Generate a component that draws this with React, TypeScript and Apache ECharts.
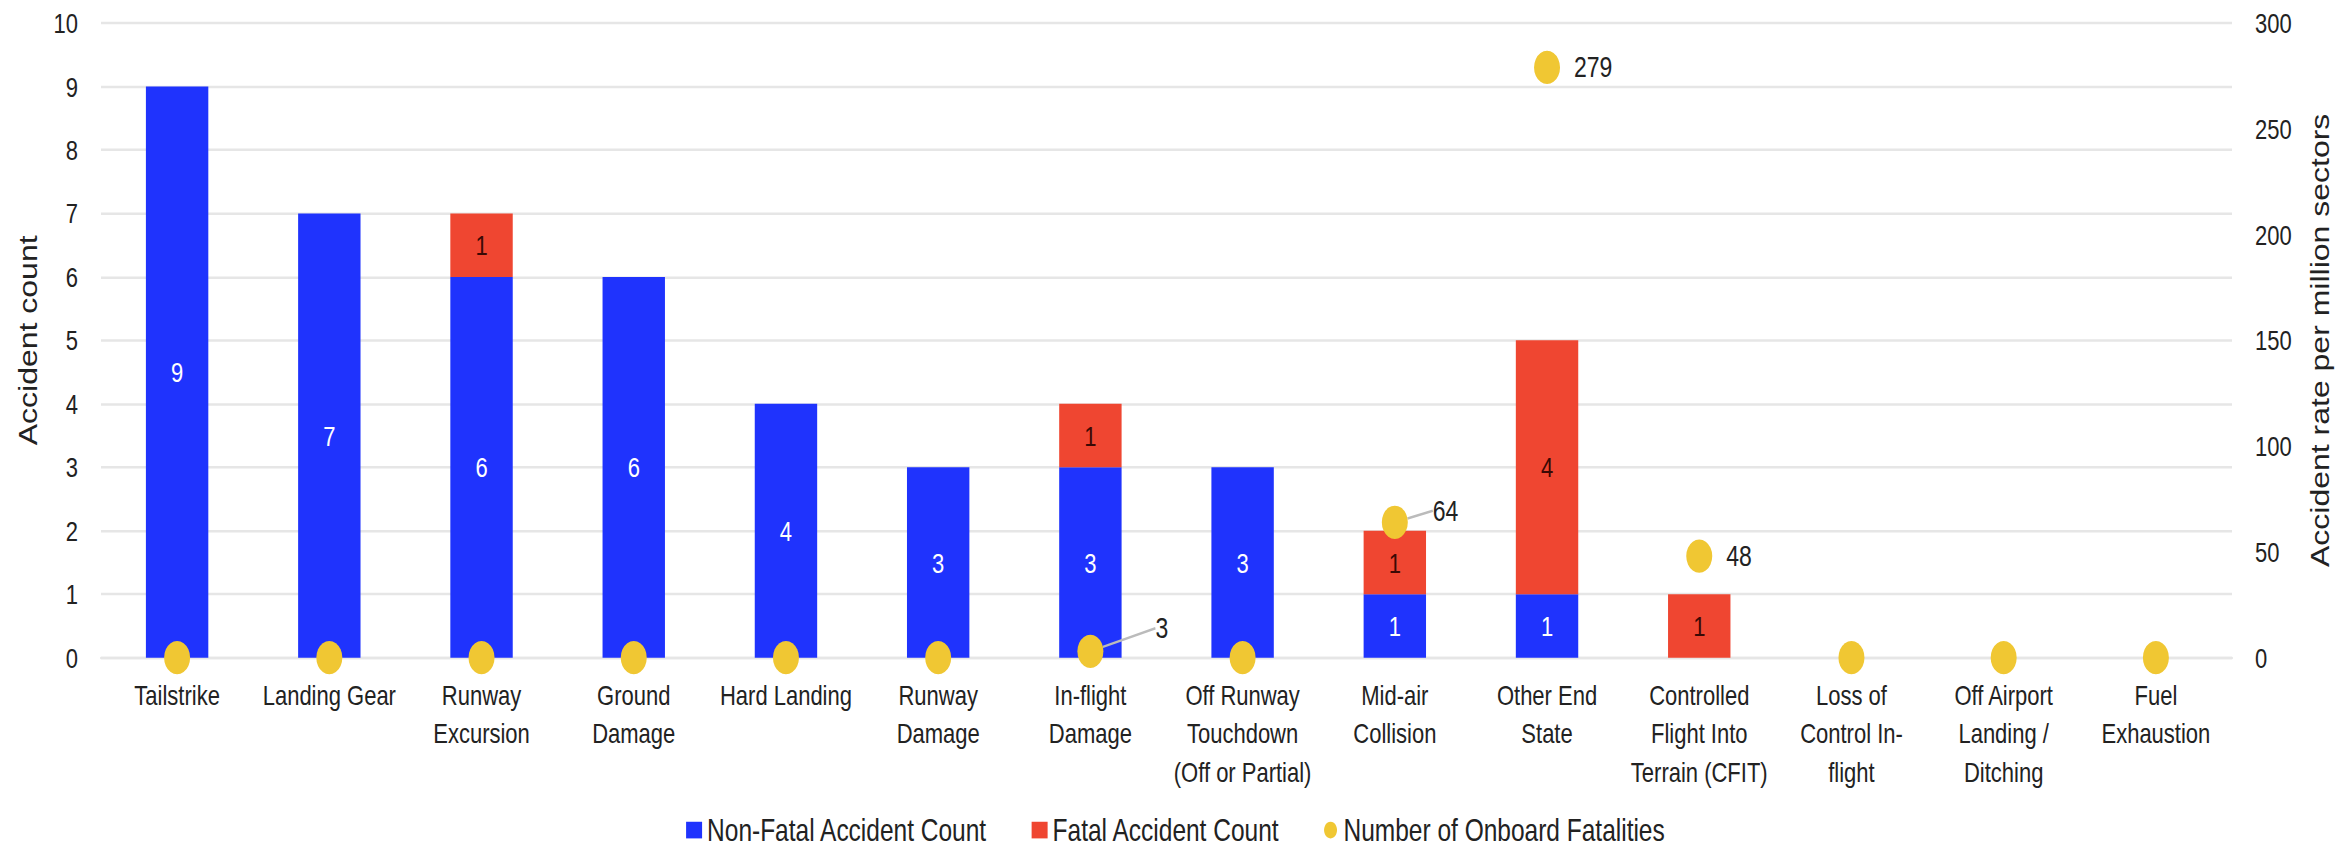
import React, { useEffect, useRef } from "react";
import * as echarts from "echarts";

const categories = [
  "Tailstrike",
  "Landing Gear",
  "Runway\nExcursion",
  "Ground\nDamage",
  "Hard Landing",
  "Runway\nDamage",
  "In-flight\nDamage",
  "Off Runway\nTouchdown\n(Off or Partial)",
  "Mid-air\nCollision",
  "Other End\nState",
  "Controlled\nFlight Into\nTerrain (CFIT)",
  "Loss of\nControl In-\nflight",
  "Off Airport\nLanding /\nDitching",
  "Fuel\nExhaustion",
];
const nonFatalCounts = [9, 7, 6, 6, 4, 3, 3, 3, 1, 1, 0, 0, 0, 0];
const fatalCounts = [0, 0, 1, 0, 0, 0, 1, 0, 1, 4, 1, 0, 0, 0];
const onboardFatalities = [0, 0, 0, 0, 0, 0, 3, 0, 64, 279, 48, 0, 0, 0];

const leftAxis = { min: 0, max: 10, interval: 1 };
const rightAxis = { min: 0, max: 300, interval: 50 };

const W = 2351;
const H = 848;
const S = 1.28;
const IH = H / S;
const FONT = "'Liberation Sans', Arial, sans-serif";

export default function App() {
  const ref = useRef<HTMLDivElement>(null);
  useEffect(() => {
    const chart = echarts.init(ref.current!, null, { renderer: "svg" });
    const nz = (p: any) => (p.value > 0 ? String(p.value) : "");
    chart.setOption({
      animation: false,
      textStyle: { fontFamily: FONT },
      grid: { left: 101, right: 119, top: 18, bottom: IH - 513.3 },
      legend: {
        top: 636,
        left: "center",
        padding: 0,
        itemGap: 44,
        itemWidth: 16,
        itemHeight: 13,
        textStyle: { fontSize: 24.5, color: "#222", fontFamily: FONT, lineHeight: 24 },
        data: [
          { name: "Non-Fatal Accident Count", icon: "rect" },
          { name: "Fatal Accident Count", icon: "rect" },
          { name: "Number of Onboard Fatalities", icon: "circle" },
        ],
      },
      xAxis: {
        type: "category",
        data: categories,
        axisTick: { show: false },
        axisLine: { lineStyle: { color: "#e6e6e6", width: 2 } },
        axisLabel: {
          interval: 0,
          fontSize: 22,
          lineHeight: 30,
          margin: 14,
          color: "#222",
          fontFamily: FONT,
        },
      },
      yAxis: [
        {
          type: "value",
          ...leftAxis,
          name: "Accident count",
          nameLocation: "middle",
          nameGap: 60,
          nameTextStyle: { fontSize: 25, color: "#222", fontFamily: FONT },
          axisLabel: { fontSize: 22, margin: 23, color: "#222", fontFamily: FONT },
          axisLine: { show: false },
          axisTick: { show: false },
          splitLine: { lineStyle: { color: "#e6e6e6", width: 2 } },
        },
        {
          type: "value",
          ...rightAxis,
          position: "right",
          name: "Accident rate per million sectors",
          nameLocation: "middle",
          nameRotate: 90,
          nameGap: 76,
          nameTextStyle: { fontSize: 25, color: "#222", fontFamily: FONT },
          axisLabel: { fontSize: 22, margin: 23, color: "#222", fontFamily: FONT },
          axisLine: { show: false },
          axisTick: { show: false },
          splitLine: { show: false },
        },
      ],
      series: [
        {
          name: "Non-Fatal Accident Count",
          type: "bar",
          stack: "acc",
          barWidth: "41%",
          data: nonFatalCounts,
          itemStyle: { color: "#1f33fd" },
          label: {
            show: true,
            position: "inside",
            fontSize: 22,
            color: "#fff",
            fontFamily: FONT,
            formatter: nz,
          },
        },
        {
          name: "Fatal Accident Count",
          type: "bar",
          stack: "acc",
          barWidth: "41%",
          data: fatalCounts,
          itemStyle: { color: "#ef4631" },
          label: {
            show: true,
            position: "inside",
            fontSize: 22,
            color: "#3a0905",
            fontFamily: FONT,
            formatter: nz,
          },
        },
        {
          name: "Number of Onboard Fatalities",
          type: "scatter",
          yAxisIndex: 1,
          symbol: "circle",
          symbolSize: 26,
          z: 5,
          itemStyle: { color: "#f0c733", opacity: 1 },
          data: onboardFatalities.map((v, i) =>
            i === 6 || i === 8
              ? { value: v, labelLine: { show: true, lineStyle: { color: "#bbbbbb", width: 2 } } }
              : { value: v }
          ),
          label: {
            show: true,
            position: "right",
            distance: 14,
            fontSize: 23,
            color: "#222",
            fontFamily: FONT,
            formatter: nz,
          },
          labelLayout: (p: any) => {
            if (p.dataIndex === 6) return { dx: 38, dy: -18 };
            if (p.dataIndex === 8) return { dx: 11, dy: -9 };
            return {};
          },
        },
      ],
    });
    return () => chart.dispose();
  }, []);
  return (
    <div
      style={{
        position: "absolute",
        left: 0,
        top: 0,
        width: W,
        height: H,
        overflow: "hidden",
        background: "#fff",
      }}
    >
      <div
        ref={ref}
        style={{
          width: W,
          height: IH,
          transform: `scaleY(${S})`,
          transformOrigin: "0 0",
        }}
      />
    </div>
  );
}
